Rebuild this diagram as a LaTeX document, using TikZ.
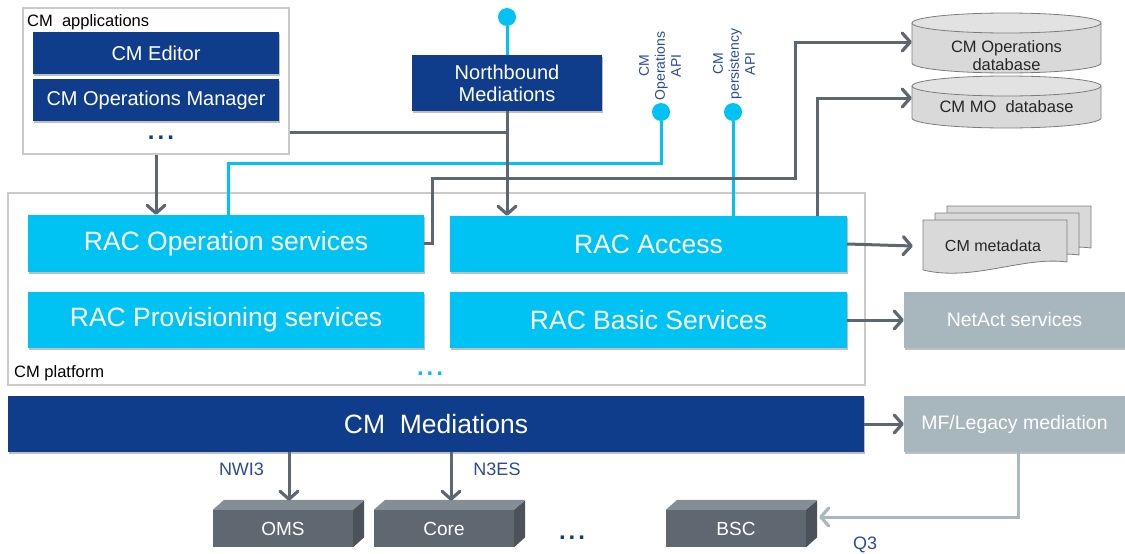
\documentclass[tikz,border=0pt]{standalone}
\usepackage{fontspec}
\setmainfont{Liberation Sans}
\usetikzlibrary{arrows.meta,shadows}

\definecolor{darkblue}{HTML}{0F3D8C}
\definecolor{racblue}{HTML}{00C3F3}
\definecolor{linegrey}{HTML}{5E666F}
\definecolor{frameg}{HTML}{CACACA}
\definecolor{extgrey}{HTML}{A8B6BD}
\definecolor{lightline}{HTML}{A9B8BF}
\definecolor{dbfill}{HTML}{D9D9D9}
\definecolor{dbtop}{HTML}{E2E2E2}
\definecolor{dbedge}{HTML}{7C7C7C}
\definecolor{lblblue}{HTML}{2B4A9C}
\definecolor{nefront}{HTML}{5F6770}
\definecolor{netop}{HTML}{858D95}
\definecolor{neside}{HTML}{4B525A}

\newcommand\myfs[2]{\fontsize{#1}{#2}\selectfont}

% document page with a wavy lower edge, top-left corner at (#1,#2)
\newcommand\docpage[2]{%
  \filldraw[docstyle] (#1,#2) -- ++(144,0) -- ++(0,42)
    .. controls ++(-44,-6) and ++(50,12) .. ++(-144,8) -- cycle;}

% cylinder: left x, top ellipse centre y, bottom ellipse centre y
\newcommand\cylinder[3]{%
  \filldraw[dbstyle] (#1,#2) -- (#1,#3)
    arc[start angle=180, end angle=360, x radius=94.5pt, y radius=10pt]
    -- (#1+189,#2);
  \filldraw[dbstyle, fill=dbtop] (#1+94.5,#2) ellipse [x radius=94.5pt, y radius=10pt];}

\begin{document}
\begin{tikzpicture}[x=1pt,y=-1pt,
  frame/.style={draw=frameg, line width=2pt, fill=white, inner sep=0pt},
  softshadow/.style={drop shadow={shadow xshift=1pt, shadow yshift=-2pt, opacity=0.25, fill=black}},
  bluebox/.style={fill=darkblue, text=white, inner sep=0pt, align=center,
                  font=\myfs{20}{22}, softshadow},
  racbox/.style={fill=racblue, text=white, inner sep=0pt,
                 font=\myfs{26.5}{30}, softshadow},
  extbox/.style={fill=extgrey, text=white, inner sep=0pt,
                 font=\myfs{19.5}{22}, softshadow},
  nebox/.style={fill=nefront, text=white, inner sep=0pt, font=\myfs{19}{22},
                minimum width=140pt, minimum height=37pt},
  apidot/.style={circle, fill=racblue, minimum size=18pt, inner sep=0pt},
  apilabel/.style={rotate=90, align=center, text=lblblue, font=\myfs{14}{16}, inner sep=0pt},
  ifacelabel/.style={text=lblblue, font=\myfs{18}{20}, inner sep=0pt},
  framelabel/.style={anchor=base west, font=\myfs{16.5}{18}, inner sep=0pt},
  dbtext/.style={text=black!85, inner sep=0pt, minimum width=189pt, align=center,
                 font=\myfs{16.5}{18}},
  docstyle/.style={fill=dbfill, draw=dbedge, line width=0.8pt},
  dbstyle/.style={fill=dbfill, draw=dbedge, line width=0.8pt},
  conn/.style={draw=linegrey, line width=3pt},
  tip/.style={-{Straight Barb[length=8pt, width=18pt, line width=3.2pt, round]}},
  arr/.style={conn, tip},
  cline/.style={draw=racblue, line width=3pt},
  lightarr/.style={draw=lightline, line width=3pt, tip},
  dots/.style={anchor=base, inner sep=0pt, font=\myfs{24}{24}\bfseries}
]
\useasboundingbox (0,0) rectangle (1125,554);

% ---------- frames ----------
\node[frame, minimum width=266pt, minimum height=146pt] (apps) at (156,81) {};
\node[framelabel] (appslbl) at (27,26) {CM~~applications};
\node[frame, minimum width=857pt, minimum height=192pt] (platform) at (436.5,289) {};
\node[framelabel] (platlbl) at (14,377) {CM platform};

% ---------- applications ----------
\node[bluebox, minimum width=246pt, minimum height=42pt] (editor) at (156,53) {CM Editor};
\node[bluebox, minimum width=246pt, minimum height=42pt] (opsmgr) at (156,100) {CM Operations Manager};
\node[dots, text=darkblue] (appdots) at (161,139) {.\hspace{3pt}.\hspace{3pt}.};

% ---------- northbound side ----------
\node[bluebox, minimum width=190pt, minimum height=56pt] (nb) at (507,83) {Northbound\\Mediations};
\node[apidot] (nbdot) at (507,17) {};
\node[apidot] (opsdot) at (661,112) {};
\node[apidot] (persdot) at (733,112) {};
\node[apilabel] (opsapi) at (660,66) {CM\\Operations\\API};
\node[apilabel] (persapi) at (734,64) {CM\\persistency\\API};

% ---------- CM platform ----------
\node[racbox, minimum width=396pt, minimum height=57pt] (racops) at (226,243.5) {RAC Operation services};
\node[racbox, minimum width=396pt, minimum height=56pt] (racprov) at (226,320) {RAC Provisioning services};
\node[racbox, minimum width=397pt, minimum height=56pt] (racacc) at (648.5,244) {RAC Access};
\node[racbox, minimum width=397pt, minimum height=56pt] (racbasic) at (648.5,320) {RAC Basic Services};
\node[dots, text=racblue] (platdots) at (430,375) {.\hspace{3pt}.\hspace{3pt}.};

% ---------- mediations ----------
\node[bluebox, font=\myfs{26.5}{30}, minimum width=856pt, minimum height=56pt] (cmmed) at (436,424) {CM~~Mediations};
\node[extbox, minimum width=221pt, minimum height=56pt] (netact) at (1014.5,320) {NetAct services};
\node[extbox, minimum width=221pt, minimum height=56pt] (mfleg) at (1014.5,424) {MF/Legacy mediation};

% ---------- databases ----------
\cylinder{912}{23}{63}
\cylinder{912}{86}{118}
\node[dbtext] (opsdb) at (1006.5,56) {CM Operations\\database};
\node[dbtext] (modb) at (1006.5,107) {CM MO~~database};

% ---------- metadata documents ----------
\docpage{947}{206}
\docpage{935}{213}
\docpage{923}{220}
\node[text=black!85, font=\myfs{16}{18}, inner sep=0pt, minimum width=160pt, minimum height=50pt] (meta) at (993,246) {CM metadata};

% ---------- network elements ----------
\foreach \n/\x/\t in {oms/283/OMS, core/444/Core, bsc/736/BSC}{
  \node[nebox] (\n) at (\x,528.5) {\t};
  \fill[netop] (\n.north west) -- (\n.north east) -- ++(11,-10) -- ++(-140,0) -- cycle;
  \fill[neside] (\n.north east) -- (\n.south east) -- ++(11,-10) -- ++(0,-37) -- cycle;
}
\node[dots, text=darkblue] (nedots) at (572,539) {.\hspace{3pt}.\hspace{3pt}.};

% ---------- interface labels ----------
\node[ifacelabel] (nwi3) at (241.5,469) {NWI3};
\node[ifacelabel] (n3es) at (497,469) {N3ES};
\node[ifacelabel] (q3) at (865,545) {Q3};

% ---------- connectors ----------
\draw[cline] (nbdot) -- (nb.north);
\draw[cline] ([xshift=2pt]racops.north) |- (opsdot |- 0,163) -- (opsdot);
\draw[cline] (persdot |- racacc.north) -- (persdot);

\draw[arr] (apps.south) -- (apps.south |- racops.north);
\draw[conn] ([yshift=-51pt]apps.east) -- (nb.south |- 0,132);
\draw[arr] (nb.south) -- (nb.south |- racacc.north);
\draw[arr] (racops.east) -- ++(8,0) |- (795,178) |- ([yshift=14pt]opsdb.west);
\draw[arr] ([xshift=-30pt]racacc.north east) |- ([yshift=9pt]modb.west);
\draw[arr] (racacc.east) -- (meta.west);
\draw[arr] (racbasic.east) -- (netact.west);
\draw[arr] (cmmed.east) -- (mfleg.west);
\draw[arr] ([xshift=6pt]oms.north |- cmmed.south) -- ([xshift=6pt,yshift=9pt]oms.north);
\draw[arr] ([xshift=7pt]core.north |- cmmed.south) -- ([xshift=7pt,yshift=9pt]core.north);
\draw[lightarr] ([xshift=3.5pt]mfleg.south) |- ([xshift=13pt,yshift=11.5pt]bsc.east);
\end{tikzpicture}
\end{document}
